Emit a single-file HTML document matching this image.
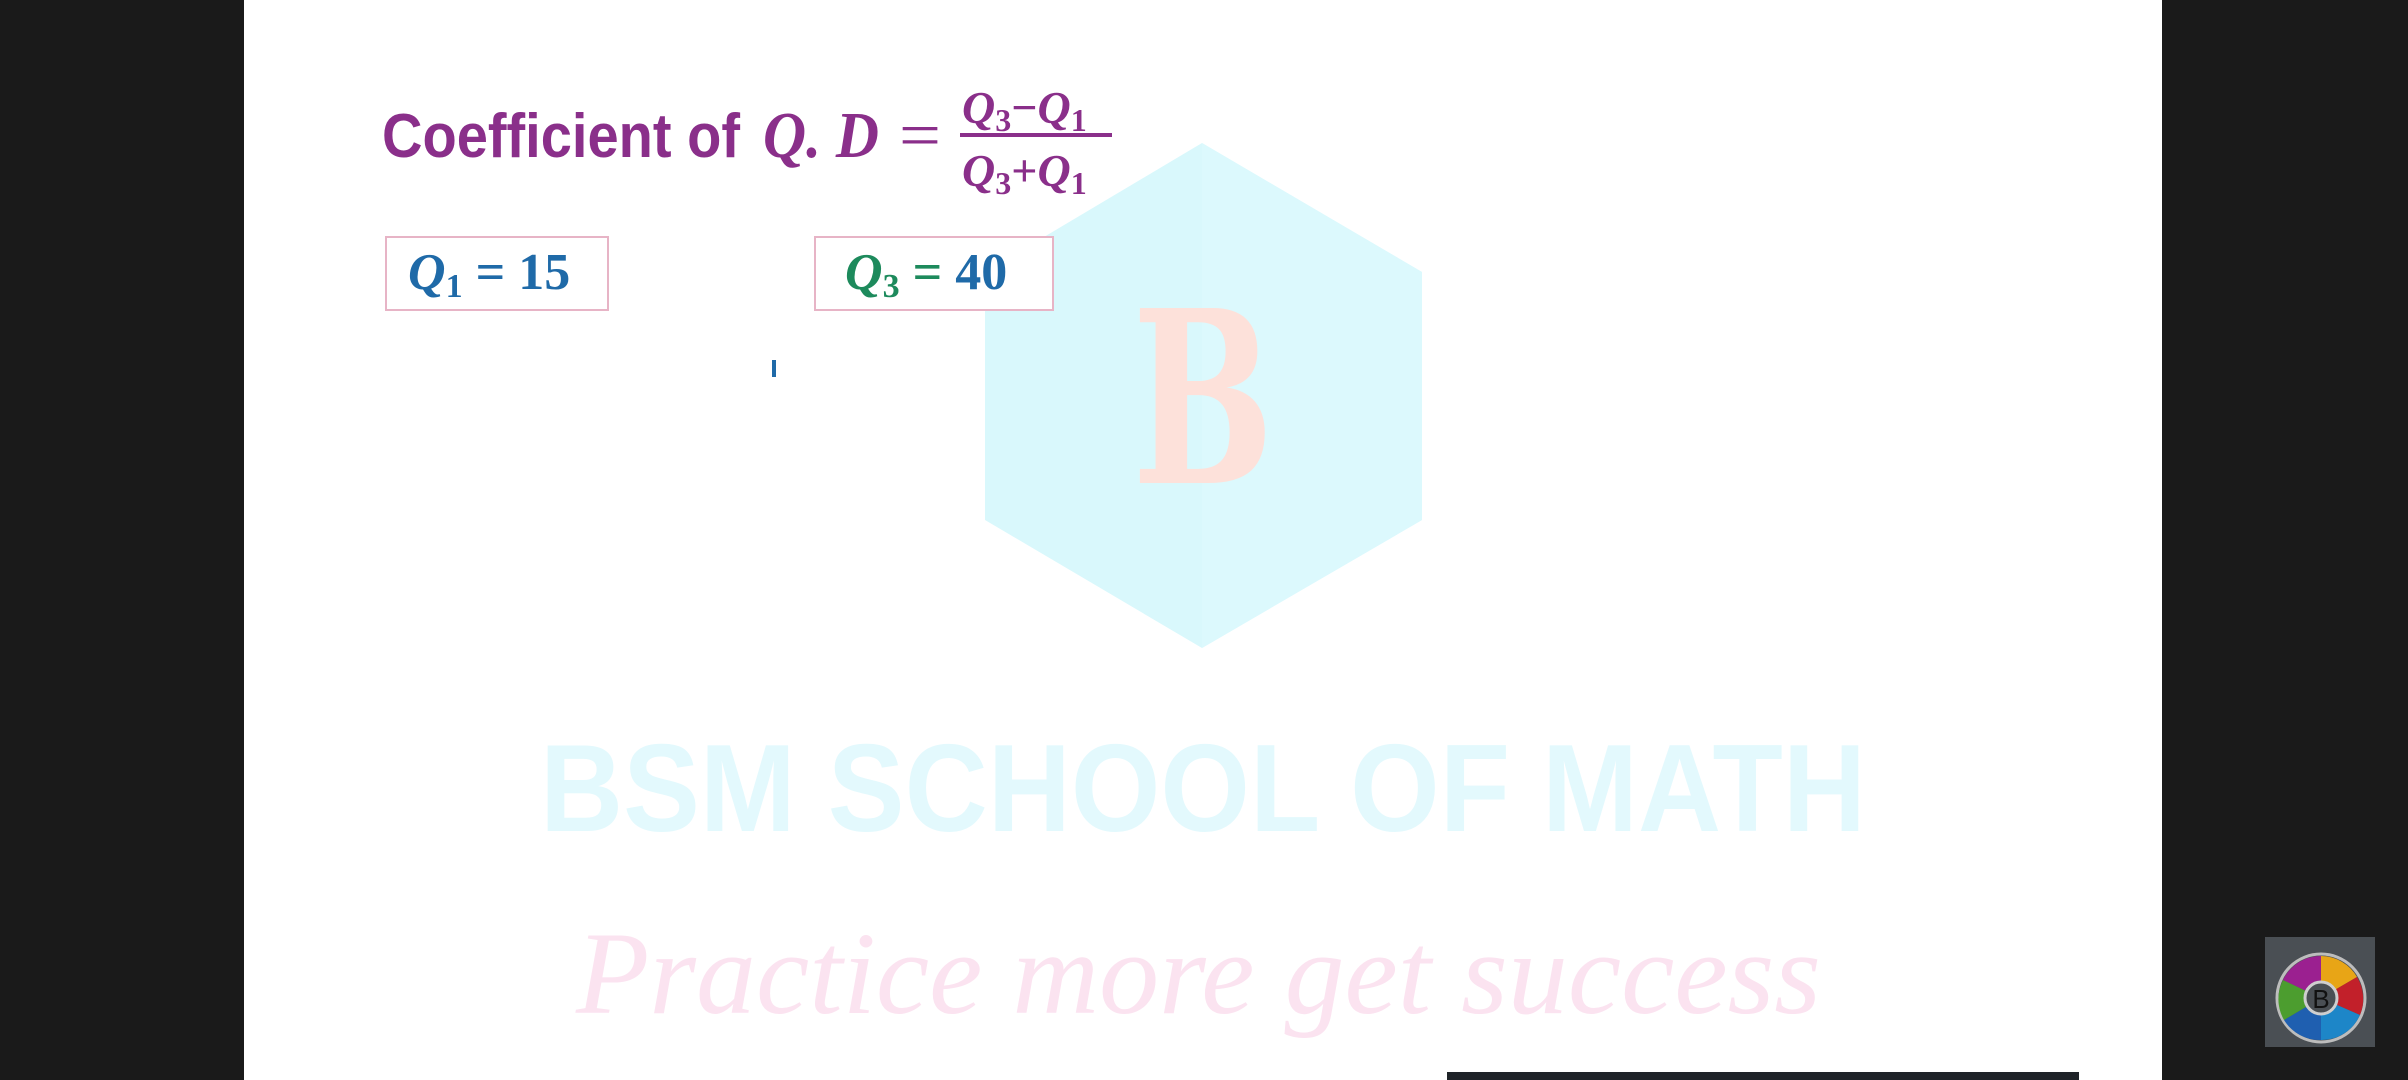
<!DOCTYPE html>
<html><head><meta charset="utf-8"><style>
html,body{margin:0;padding:0;background:#1a1a1a;}
svg{display:block;}
</style></head><body>
<svg width="2408" height="1080" viewBox="0 0 2408 1080" xmlns="http://www.w3.org/2000/svg">
  <rect x="0" y="0" width="2408" height="1080" fill="#1a1a1a"/>
  <rect x="244" y="0" width="1918" height="1080" fill="#ffffff"/>

  <g>
    <polygon points="1202,143 1422,272 1422,520 1202,648 985,520 985,272" fill="#d9f8fc"/>
    <polygon points="1202,143 1422,272 1422,520 1202,648 1202,395" fill="#dcf9fd"/>
    <text x="1203" y="483" text-anchor="middle" font-family="'DejaVu Serif','Liberation Serif',serif" font-weight="bold" font-size="240" fill="#fde1da" textLength="142" lengthAdjust="spacingAndGlyphs">B</text>
  </g>

  <text x="540" y="831" font-family="'Liberation Sans',sans-serif" font-weight="bold" font-size="124" fill="#e3f9fd" textLength="1326" lengthAdjust="spacingAndGlyphs">BSM SCHOOL OF MATH</text>
  <text x="576" y="1013" font-family="'URW Chancery L','Z003','Liberation Serif',cursive" font-style="italic" font-size="118" fill="#fbe3f0" textLength="1245" lengthAdjust="spacingAndGlyphs">Practice more get success</text>

  <g fill="#8a2f8a">
    <text x="382" y="157" font-family="'Liberation Sans',sans-serif" font-weight="bold" font-size="62" textLength="358" lengthAdjust="spacingAndGlyphs">Coefficient of</text>
    <text x="763" y="157" font-family="'Liberation Serif',serif" font-style="italic" font-weight="bold" font-size="66" textLength="116" lengthAdjust="spacingAndGlyphs">Q. D</text>
    <text x="899" y="157" font-family="'Liberation Serif',serif" font-size="66" textLength="42" lengthAdjust="spacingAndGlyphs">=</text>
    <text x="962" y="123" font-family="'Liberation Serif',serif" font-style="italic" font-weight="bold" font-size="46">Q<tspan font-size="32" font-style="normal" dy="8">3</tspan><tspan dy="-8" font-style="normal">−</tspan>Q<tspan font-size="32" font-style="normal" dy="8">1</tspan></text>
    <rect x="960" y="133" width="152" height="4"/>
    <text x="962" y="186" font-family="'Liberation Serif',serif" font-style="italic" font-weight="bold" font-size="46">Q<tspan font-size="32" font-style="normal" dy="8">3</tspan><tspan dy="-8" font-style="normal">+</tspan>Q<tspan font-size="32" font-style="normal" dy="8">1</tspan></text>
  </g>

  <g>
    <rect x="386" y="237" width="222" height="73" fill="#fff" stroke="#e7b4c6" stroke-width="2"/>
    <text x="408" y="289" font-family="'Liberation Serif',serif" font-weight="bold" font-size="52" fill="#1f6aa8"><tspan font-style="italic">Q</tspan><tspan font-size="34" dy="8">1</tspan><tspan dy="-8"> = 15</tspan></text>
  </g>
  <g>
    <rect x="815" y="237" width="238" height="73" fill="#fff" stroke="#e7b4c6" stroke-width="2"/>
    <text x="845" y="289" font-family="'Liberation Serif',serif" font-weight="bold" font-size="52"><tspan font-style="italic" fill="#1d8a5c">Q</tspan><tspan font-size="34" dy="8" fill="#1d8a5c">3</tspan><tspan dy="-8" fill="#1d8a5c"> = </tspan><tspan fill="#1f6aa8">40</tspan></text>
  </g>

  <rect x="772" y="360" width="4" height="17" fill="#1f6aa8"/>

  <rect x="1447" y="1072" width="632" height="8" fill="#1f2328"/>

  <g>
    <rect x="2265" y="937" width="110" height="110" fill="#4a4f54"/>
    <circle cx="2321" cy="998" r="44" fill="none" stroke="#bdbdbd" stroke-width="3"/>
    <path d="M2321,998 L2321,956 A42,42 0 0 1 2357,977 Z" fill="#e8a516"/>
    <path d="M2321,998 L2357,977 A42,42 0 0 1 2360,1015 Z" fill="#c2202a"/>
    <path d="M2321,998 L2360,1015 A42,42 0 0 1 2321,1040 Z" fill="#1d86c8"/>
    <path d="M2321,998 L2321,1040 A42,42 0 0 1 2284,1020 Z" fill="#1f5fb0"/>
    <path d="M2321,998 L2284,1020 A42,42 0 0 1 2283,980 Z" fill="#4c9d2f"/>
    <path d="M2321,998 L2283,980 A42,42 0 0 1 2321,956 Z" fill="#9b2090"/>
    <circle cx="2321" cy="998" r="16" fill="#4a4f54" stroke="#cfcfcf" stroke-width="3"/>
    <text x="2321" y="1008" text-anchor="middle" font-family="'Liberation Sans',sans-serif" font-size="26" fill="#111">B</text>
  </g>
</svg>
</body></html>
